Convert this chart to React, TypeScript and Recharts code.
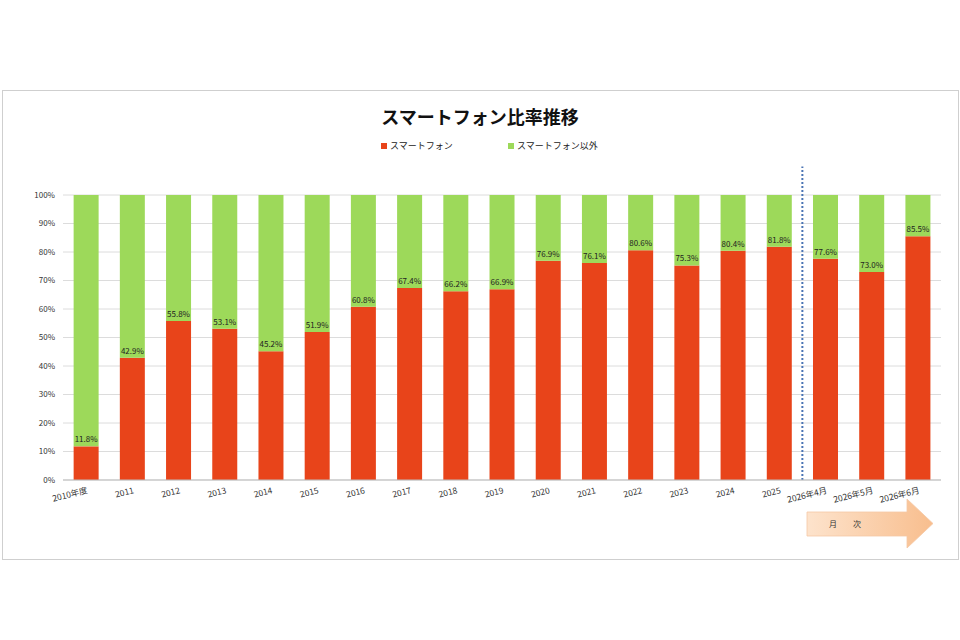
import { BarChart, Bar, XAxis, YAxis, CartesianGrid, ReferenceLine, LabelList } from 'recharts';

const categories = [
  '2010年度', '2011', '2012', '2013', '2014', '2015', '2016', '2017', '2018', '2019',
  '2020', '2021', '2022', '2023', '2024', '2025', '2026年4月', '2026年5月', '2026年6月',
];
// スマートフォン比率 (%)
const smartphone = [
  11.8, 42.9, 55.8, 53.1, 45.2, 51.9, 60.8, 67.4, 66.2, 66.9,
  76.9, 76.1, 80.6, 75.3, 80.4, 81.8, 77.6, 73.0, 85.5,
];
const yTicks = [0, 10, 20, 30, 40, 50, 60, 70, 80, 90, 100];

const RED = '#E8441A';
const GREEN = '#9DD95A';
const FONT = '"Noto Sans CJK JP", "Noto Sans", sans-serif';

const data = categories.map((c, i) => ({
  name: c,
  sp: smartphone[i],
  other: +(100 - smartphone[i]).toFixed(1),
}));

function RotTick(props: any) {
  const { x, y, payload } = props;
  return (
    <g transform={`translate(${x + 2},${y + 5})`}>
      <text transform="rotate(-14)" textAnchor="end" fontSize={8.5} fill="#333" fontFamily={FONT}>
        {payload.value}
      </text>
    </g>
  );
}

export default function App() {
  return (
    <div style={{ position: 'absolute', left: 0, top: 0, width: 960, height: 640, background: '#fff', fontFamily: FONT }}>
      <div style={{ position: 'absolute', left: 2, top: 90, width: 955, height: 468, border: '1px solid #cfcfcf' }} />
      <svg style={{ position: 'absolute', left: 0, top: 0 }} width={960} height={640}>
        <defs>
          <linearGradient id="arrowGrad" x1="0" y1="0" x2="1" y2="0">
            <stop offset="0%" stopColor="#FDE3CC" />
            <stop offset="100%" stopColor="#F8BE8E" />
          </linearGradient>
        </defs>
        <path
          d="M807,512 L907,512 L907,499 L933,523.5 L907,548 L907,536 L807,536 Z"
          fill="url(#arrowGrad)"
          stroke="#F5C8A4"
          strokeWidth={0.8}
        />
        <text x={829} y={527} fontSize={8} fill="#333" fontFamily={FONT}>月　　次</text>
      </svg>
      <div style={{ position: 'absolute', left: 0, top: 103, width: 960, textAlign: 'center', fontSize: 18, fontWeight: 700, color: '#111' }}>
        スマートフォン比率推移
      </div>
      <div style={{ position: 'absolute', left: 381, top: 139, fontSize: 9, color: '#222', display: 'flex', alignItems: 'center' }}>
        <span style={{ width: 6, height: 6, background: RED, display: 'inline-block', marginRight: 3 }} />
        スマートフォン
      </div>
      <div style={{ position: 'absolute', left: 508, top: 139, fontSize: 9, color: '#222', display: 'flex', alignItems: 'center' }}>
        <span style={{ width: 6, height: 6, background: GREEN, display: 'inline-block', marginRight: 3 }} />
        スマートフォン以外
      </div>
      <div style={{ position: 'absolute', left: 0, top: 0 }}>
        <BarChart width={960} height={640} data={data} margin={{ top: 195, right: 19, left: 0, bottom: 130 }} barCategoryGap="23%">
          <CartesianGrid vertical={false} stroke="#dcdcdc" />
          <XAxis dataKey="name" height={30} interval={0} tick={<RotTick />} tickLine={false} axisLine={{ stroke: '#bdbdbd' }} />
          <YAxis
            width={63}
            domain={[0, 100]}
            ticks={yTicks}
            tickFormatter={(v: number) => `${v}%`}
            tick={{ fontSize: 8, fill: '#333', fontFamily: FONT }}
            axisLine={false}
            tickLine={false}
          />
          <Bar dataKey="sp" stackId="a" fill={RED} isAnimationActive={false}>
            <LabelList
              dataKey="sp"
              position="top"
              offset={4}
              formatter={(v: any) => `${Number(v).toFixed(1)}%`}
              style={{ fontSize: 8, fill: '#222', fontFamily: FONT }}
            />
          </Bar>
          <Bar dataKey="other" stackId="a" fill={GREEN} isAnimationActive={false} />
          <ReferenceLine
            segment={[{ x: '2025', y: 0 }, { x: '2025', y: 110 }]}
            position="end"
            ifOverflow="visible"
            stroke="#4A74B4"
            strokeWidth={2}
            strokeDasharray="2 2"
          />
        </BarChart>
      </div>
    </div>
  );
}
